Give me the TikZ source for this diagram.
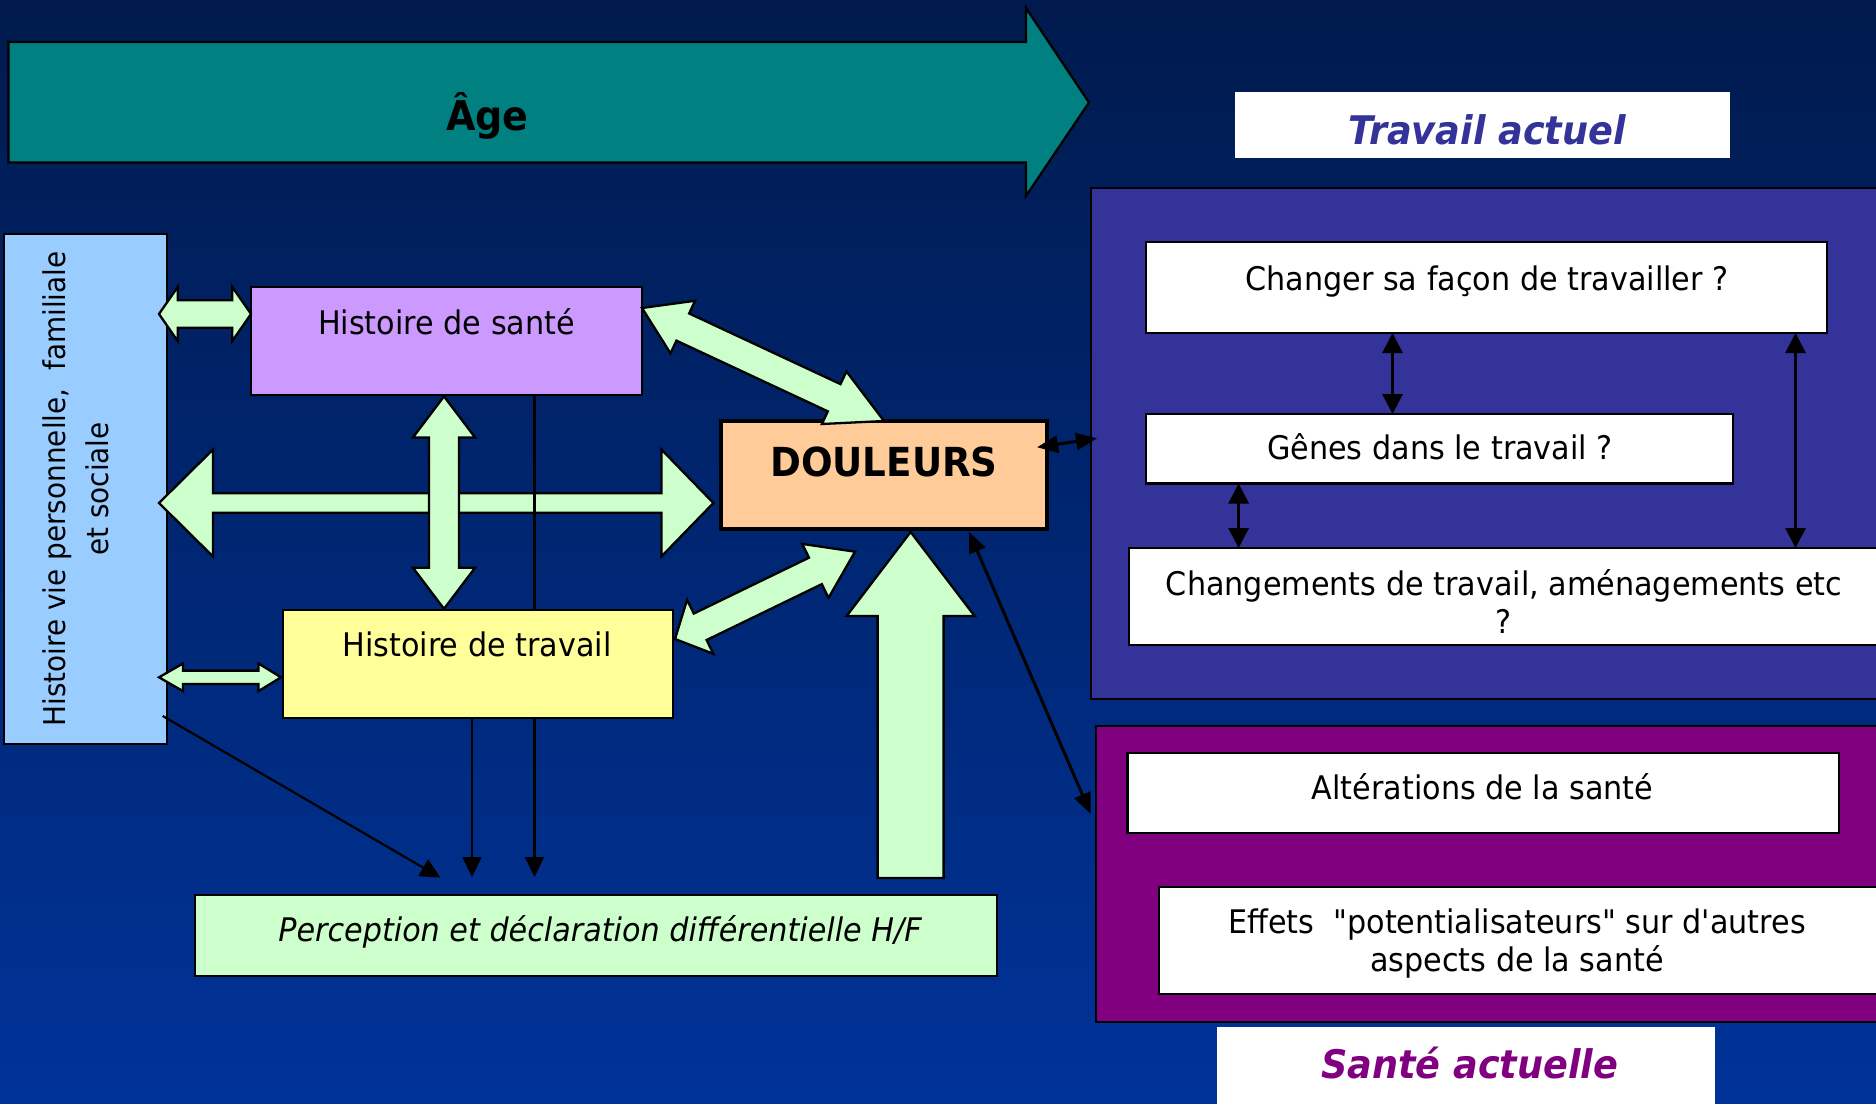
\documentclass[tikz,border=0pt]{standalone}
\usepackage{fontspec}
\setmainfont{DejaVu Sans}[FakeStretch=0.93]
\newfontfamily\plainf{DejaVu Sans}[FakeStretch=0.93]
\usetikzlibrary{calc,arrows.meta}
\definecolor{bgtop}{HTML}{001A4D}
\definecolor{bgbot}{HTML}{003399}
\definecolor{agecol}{HTML}{008080}
\definecolor{viecol}{HTML}{99CCFF}
\definecolor{santecol}{HTML}{CC99FF}
\definecolor{doulcol}{HTML}{FFCC99}
\definecolor{travcol}{HTML}{FFFF99}
\definecolor{greencol}{HTML}{CCFFCC}
\definecolor{navycol}{HTML}{333399}
\definecolor{magcol}{HTML}{800080}
\tikzset{
  box/.style={draw=black, line width=2.6pt, inner sep=0pt, outer sep=0pt},
  lbl/.style={fill=white, inner sep=0pt, outer sep=0pt},
  txt/.style={inner sep=0pt, outer sep=0pt, anchor=base, font=\fontsize{32.5}{39}\selectfont},
  bigarr/.style={draw=black, fill=greencol, line width=2.3pt, line join=miter},
  thinarr/.style={line width=2.2pt, -{Triangle[length=20pt,width=19pt]}},
  inarr/.style={line width=3pt, {Triangle[length=20pt,width=20pt]}-{Triangle[length=20pt,width=20pt]}},
  linkarr/.style={line width=3pt, {Triangle[length=21pt,width=17pt]}-{Triangle[length=21pt,width=17pt]}},
}
% double block arrow: A, B, shaft half width, head half width, head length at A, head length at B
\newcommand\dblarr[6]{%
  \draw[bigarr] (#1)
   -- ($(#1)!#5!(#2)!#4!90:(#2)$)
   -- ($(#1)!#5!(#2)!#3!90:(#2)$)
   -- ($(#2)!#6!(#1)!#3!-90:(#1)$)
   -- ($(#2)!#6!(#1)!#4!-90:(#1)$)
   -- (#2)
   -- ($(#2)!#6!(#1)!#4!90:(#1)$)
   -- ($(#2)!#6!(#1)!#3!90:(#1)$)
   -- ($(#1)!#5!(#2)!#3!-90:(#2)$)
   -- ($(#1)!#5!(#2)!#4!-90:(#2)$)
   -- cycle;}
% single block arrow: tail A, tip B, shaft half width, head half width, head length
\newcommand\sglarr[5]{%
  \draw[bigarr] ($(#1)!#3!90:(#2)$)
   -- ($(#2)!#5!(#1)!#3!-90:(#1)$)
   -- ($(#2)!#5!(#1)!#4!-90:(#1)$)
   -- (#2)
   -- ($(#2)!#5!(#1)!#4!90:(#1)$)
   -- ($(#2)!#5!(#1)!#3!90:(#1)$)
   -- ($(#1)!#3!-90:(#2)$)
   -- cycle;}
\begin{document}
\begin{tikzpicture}[x=1pt,y=-1pt]
\useasboundingbox (0,0) rectangle (1876,1103);
\clip (0,0) rectangle (1876,1103);
\fill[top color=bgtop, bottom color=bgbot] (0,0) rectangle (1876,1103);

% Age arrow
\draw[fill=agecol, line width=2.3pt, line join=miter] (8.4,42) -- (1026,42) -- (1026,8) -- (1089,102.5) -- (1026,196) -- (1026,162.5) -- (8.4,162.5) -- cycle;
\node[txt, font=\bfseries\fontsize{41}{49}\selectfont] (ageT) at (487.5,130.4) {Âge};

% left boxes
\node[box, fill=viecol, minimum width=163pt, minimum height=510pt] (vie) at (85.5,489) {};
\node[txt, rotate=90, font=\fontsize{30}{36}\selectfont] (vieT1) at (65.7,489) {Histoire vie personnelle,\ \ familiale};
\node[txt, rotate=90, font=\fontsize{30}{36}\selectfont] (vieT2) at (108.3,489) {et sociale};

\node[box, fill=santecol, minimum width=391pt, minimum height=108pt] (sante) at (446.5,341) {};
\node[txt] (santeT) at (446.5,334) {Histoire de santé};

\node[box, fill=doulcol, line width=4.5pt, minimum width=326pt, minimum height=108pt] (doul) at (884,475) {};
\node[txt, font=\bfseries\fontsize{40}{48}\selectfont] (doulT) at (884,476) {DOULEURS};

% big horizontal arrow and the line from the health box (behind the work box)
\coordinate (hA0) at (vie.east |- 0,503); \coordinate (hA) at ($(hA0)+(-8,0)$);
\coordinate (hB) at ($(doul.west |- hA)+(-7.6,0)$);
\dblarr{hA}{hB}{9.7pt}{53.5pt}{54pt}{52pt}
\coordinate (p1) at (534.5,877);
\draw[thinarr] (sante.south -| p1) -- (p1);

\node[box, fill=travcol, minimum width=390pt, minimum height=108pt] (trav) at (478,664) {};
\node[txt] (travT) at (477,656) {Histoire de travail};

\node[box, fill=greencol, minimum width=802pt, minimum height=81pt] (perc) at (596,935.5) {};
\node[txt, font=\itshape\fontsize{32.5}{39}\selectfont] (percT) at (600,941) {Perception et déclaration différentielle H/F};

% right: travail actuel
\node[lbl, minimum width=495pt, minimum height=66pt] (tlab) at (1482.5,125) {};
\node[txt, text=navycol, font=\bfseries\itshape\fontsize{39.4}{47}\selectfont] (tlabT) at (1487,144.6) {Travail actuel};

\node[box, fill=navycol, minimum width=809pt, minimum height=511pt] (tgrp) at (1495.5,443.5) {};
\node[box, fill=white, minimum width=681pt, minimum height=91pt] (chg) at (1486.5,287.5) {};
\node[txt] (chgT) at (1487,290) {Changer sa façon de travailler ?};
\node[box, fill=white, minimum width=587pt, minimum height=69.5pt] (gen) at (1439.5,448.75) {};
\node[txt] (genT) at (1440,459) {Gênes dans le travail ?};
\node[box, fill=white, minimum width=753pt, minimum height=97pt] (chm) at (1505.5,596.5) {};
\node[txt] (chmT1) at (1504,595.5) {Changements de travail, aménagements etc};
\node[txt] (chmT2) at (1504,633.6) {?};

% right: sante actuelle
\node[box, fill=magcol, minimum width=804pt, minimum height=296pt] (sgrp) at (1498,874) {};
\node[box, fill=white, minimum width=711.5pt, minimum height=80pt] (alt) at (1483.25,793) {};
\node[txt] (altT) at (1482.6,799) {Altérations de la santé};
\node[box, fill=white, minimum width=721pt, minimum height=107pt] (eff) at (1519.5,940.5) {};
\node[txt, font=\plainf\fontsize{32.5}{39}\selectfont] (effT1) at (1517,933.3) {Effets\ \ "potentialisateurs" sur d'autres};
\node[txt] (effT2) at (1517,971.7) {aspects de la santé};
\node[lbl, minimum width=498pt, minimum height=83pt] (slab) at (1466,1068.5) {};
\node[txt, text=magcol, font=\bfseries\itshape\fontsize{39.4}{47}\selectfont] (slabT) at (1469.6,1078.3) {Santé actuelle};

% block arrows
\coordinate (vA) at ($(sante.south -| 444,0)+(0,1.4)$);
\coordinate (vB) at ($(trav.north -| 444,0)+(0,-1.2)$);
\dblarr{vA}{vB}{15pt}{31pt}{41pt}{41pt}
\coordinate (vsA) at ($(vie.east |- 0,314)+(-8,0)$);
\coordinate (vsB) at (sante.west |- vsA);
\dblarr{vsA}{vsB}{13.7pt}{27pt}{18.7pt}{18.7pt}
\coordinate (vtA) at ($(vie.east |- 0,677.3)+(-8,0)$);
\coordinate (vtB) at ($(trav.west |- vtA)+(-2,0)$);
\dblarr{vtA}{vtB}{6.7pt}{13.8pt}{24pt}{22.5pt}
\coordinate (sdA) at (sante.east |- 0,308);
\coordinate (sdB) at (doul.north);
\dblarr{sdA}{sdB}{15pt}{29pt}{45pt}{55pt}
\coordinate (tdA) at ($(trav.east |- 0,639)+(2,0)$);
\coordinate (tdB) at (855,551.7);
\dblarr{tdA}{tdB}{14.7pt}{30pt}{28pt}{44pt}
\coordinate (upA) at (910.6,878);
\coordinate (upB) at ($(doul.south -| upA)+(0,3)$);
\sglarr{upA}{upB}{33pt}{64pt}{84pt}

% thin arrows to perception
\coordinate (p2) at (472,877);
\coordinate (p3) at (440.5,877.7);
\draw[thinarr] (trav.south -| p2) -- (p2);
\draw[thinarr] ($(vie.south east)+(-4.3,-28)$) -- (p3);

% links on the right
\draw[linkarr] ($(doul.east)+(-10,-27.7)$) -- ($(tgrp.west |- 0,438.3)+(6,0)$);
\draw[linkarr] ($(doul.south east)+(-78,2.7)$) -- ($(sgrp.west |- 0,814)+(-5.3,0)$);

% arrows inside travail actuel
\coordinate (xa) at (1392.5,0);
\coordinate (xb) at (1238.6,0);
\coordinate (xc) at (1795.5,0);
\draw[inarr] (chg.south -| xa) -- (gen.north -| xa);
\draw[inarr] (gen.south -| xb) -- (chm.north -| xb);
\draw[inarr] (chg.south -| xc) -- (chm.north -| xc);
\end{tikzpicture}
\end{document}
